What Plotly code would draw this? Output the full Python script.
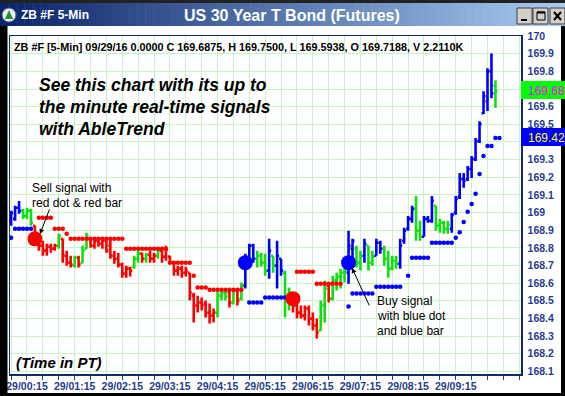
import plotly.graph_objects as go

# ---------------- data ----------------
BAR_START_MIN = -5          # first bar 28/23:55, minutes relative to 29/00:00
BAR_STEP_MIN = 5            # 5-minute bars

OPEN = [168.942, 168.964, 169.027, 169.010, 168.981, 169.010, 168.925, 168.829, 168.812, 168.784,
        168.806, 168.795, 168.812, 168.851, 168.755, 168.716, 168.699, 168.744, 168.716, 168.795,
        168.851, 168.812, 168.840, 168.823, 168.840, 168.812, 168.755, 168.738, 168.705, 168.654,
        168.682, 168.693, 168.738, 168.767, 168.738, 168.761, 168.738, 168.755, 168.784, 168.750,
        168.750, 168.716, 168.671, 168.682, 168.659, 168.659, 168.529, 168.473, 168.490, 168.484,
        168.433, 168.416, 168.433, 168.529, 168.546, 168.546, 168.490, 168.558, 168.512, 168.586,
        168.738, 168.812, 168.738, 168.755, 168.716, 168.671, 168.755, 168.699, 168.738, 168.659,
        168.501, 168.541, 168.473, 168.433, 168.416, 168.456, 168.399, 168.360, 168.332, 168.473,
        168.586, 168.512, 168.614, 168.637, 168.659, 168.659, 168.795, 168.795, 168.716, 168.755,
        168.812, 168.716, 168.755, 168.829, 168.795, 168.738, 168.682, 168.727, 168.710, 168.840,
        168.908, 168.964, 169.021, 168.897, 168.863, 168.964, 168.953, 169.038, 168.925, 168.942,
        168.908, 168.908, 168.998, 169.089, 169.190, 169.190, 169.247, 169.303, 169.405, 169.563,
        169.631, 169.801, 169.7188]
HIGH = [169.010, 169.038, 169.066, 169.021, 169.027, 169.021, 168.925, 168.851, 168.840, 168.823,
        168.823, 168.823, 168.880, 168.851, 168.784, 168.755, 168.755, 168.755, 168.812, 168.885,
        168.857, 168.851, 168.857, 168.851, 168.857, 168.851, 168.784, 168.772, 168.716, 168.699,
        168.693, 168.755, 168.784, 168.772, 168.772, 168.784, 168.772, 168.795, 168.784, 168.812,
        168.755, 168.716, 168.699, 168.699, 168.693, 168.659, 168.546, 168.529, 168.518, 168.501,
        168.484, 168.456, 168.558, 168.569, 168.569, 168.558, 168.569, 168.558, 168.603, 168.767,
        168.823, 168.823, 168.784, 168.772, 168.767, 168.851, 168.755, 168.840, 168.738, 168.671,
        168.575, 168.541, 168.501, 168.473, 168.473, 168.473, 168.433, 168.399, 168.501, 168.614,
        168.597, 168.642, 168.659, 168.682, 168.699, 168.897, 168.851, 168.812, 168.784, 168.851,
        168.812, 168.784, 168.851, 168.840, 168.812, 168.784, 168.755, 168.755, 168.851, 168.914,
        168.981, 169.038, 169.094, 168.953, 168.981, 168.981, 169.094, 169.038, 168.964, 168.953,
        168.953, 168.998, 169.094, 169.224, 169.224, 169.264, 169.320, 169.422, 169.518, 169.688,
        169.818, 169.902, 169.7500]
LOW = [168.925, 168.953, 168.993, 168.964, 168.964, 168.925, 168.812, 168.784, 168.755, 168.755,
       168.772, 168.784, 168.795, 168.716, 168.699, 168.688, 168.688, 168.688, 168.716, 168.795,
       168.801, 168.795, 168.806, 168.795, 168.772, 168.738, 168.710, 168.688, 168.631, 168.631,
       168.637, 168.682, 168.716, 168.716, 168.716, 168.716, 168.716, 168.738, 168.716, 168.727,
       168.710, 168.642, 168.642, 168.631, 168.637, 168.501, 168.377, 168.433, 168.445, 168.405,
       168.371, 168.377, 168.405, 168.501, 168.501, 168.462, 168.479, 168.473, 168.501, 168.569,
       168.716, 168.716, 168.688, 168.693, 168.642, 168.625, 168.659, 168.569, 168.642, 168.405,
       168.445, 168.433, 168.399, 168.399, 168.388, 168.360, 168.332, 168.286, 168.332, 168.377,
       168.490, 168.501, 168.558, 168.569, 168.603, 168.597, 168.738, 168.688, 168.671, 168.716,
       168.671, 168.699, 168.755, 168.767, 168.699, 168.631, 168.671, 168.682, 168.682, 168.823,
       168.897, 168.942, 168.840, 168.840, 168.863, 168.942, 168.942, 168.897, 168.885, 168.880,
       168.880, 168.885, 168.987, 169.077, 169.140, 169.179, 169.196, 169.292, 169.394, 169.558,
       169.575, 169.648, 169.5938]
CLOSE = [168.998, 169.027, 169.010, 168.981, 169.010, 168.942, 168.829, 168.812, 168.784, 168.806,
         168.795, 168.812, 168.868, 168.755, 168.716, 168.705, 168.744, 168.705, 168.784, 168.868,
         168.812, 168.840, 168.823, 168.840, 168.784, 168.755, 168.738, 168.705, 168.654, 168.682,
         168.671, 168.738, 168.767, 168.738, 168.761, 168.738, 168.755, 168.784, 168.750, 168.789,
         168.716, 168.671, 168.682, 168.659, 168.671, 168.546, 168.473, 168.490, 168.473, 168.433,
         168.416, 168.433, 168.529, 168.546, 168.524, 168.490, 168.558, 168.501, 168.586, 168.716,
         168.812, 168.738, 168.755, 168.716, 168.671, 168.784, 168.699, 168.755, 168.671, 168.501,
         168.546, 168.473, 168.433, 168.416, 168.456, 168.399, 168.360, 168.320, 168.473, 168.569,
         168.512, 168.614, 168.637, 168.659, 168.671, 168.812, 168.840, 168.716, 168.755, 168.823,
         168.716, 168.750, 168.829, 168.795, 168.738, 168.682, 168.727, 168.710, 168.812, 168.897,
         168.964, 169.021, 168.897, 168.863, 168.964, 168.953, 169.066, 168.925, 168.942, 168.908,
         168.931, 168.987, 169.077, 169.190, 169.179, 169.247, 169.303, 169.405, 169.501, 169.659,
         169.801, 169.676, 169.6875]
# B = uptrend (blue), R = downtrend (red), G = neutral (green)
BAR_COLOR = ("BBB" "GGG" "RRRRRR" "G" "RRR" "G" "R" "GG" "RRRRRRRRRRR" "GG" "R" "G" "RR" "G"
             "RRRRRRRRRRRRRR" "GGG" "R" "G" "R" "G" "BBB" "GGG" "B" "G" "BB" "GG" "RRRRRRR" "GG"
             "R" "GGGG" "BB" "GG" "B" "GG" "BB" "GGGG" "BBBB" "GG" "BBB" "GGGG" "BBBBBBBBBBB" "G")

RED_STOP_BAR = [7, 8, 9, 10, 11, 12, 13, 14,
                15, 16, 17, 18, 19, 20, 21, 22, 23, 24, 25, 26, 27, 28,
                29, 30, 31, 32, 33, 34, 35, 36, 37, 38, 39,
                40, 41, 42, 43, 44, 45, 46, 47, 48, 49,
                50, 51, 52, 53, 54, 55, 56, 57, 58,
                72, 73, 74, 75, 76, 77, 78, 79, 80, 81, 82, 83]
RED_STOP_PRICE = [168.970, 168.970, 168.970, 168.970, 168.908, 168.908, 168.908, 168.880,
                  168.851, 168.851, 168.851, 168.851, 168.851, 168.851, 168.851, 168.851, 168.851,
                  168.851, 168.851, 168.851, 168.851, 168.851,
                  168.795, 168.795, 168.795, 168.795, 168.795, 168.795, 168.795, 168.795, 168.795,
                  168.795, 168.795,
                  168.716, 168.716, 168.716, 168.716, 168.716, 168.716, 168.642, 168.575, 168.575,
                  168.575,
                  168.563, 168.563, 168.563, 168.563, 168.563, 168.563, 168.563, 168.563, 168.563,
                  168.665, 168.665, 168.665, 168.665, 168.665, 168.597, 168.597, 168.597, 168.597,
                  168.597, 168.597, 168.597]
BLUE_STOP_BAR = [0, 1, 2, 3, 4, 5,
                 60, 61, 62, 63, 64, 65, 66, 67, 68, 69, 70,
                 85, 86, 87, 88, 89, 90, 91, 92, 93, 94, 95, 96, 97, 98,
                 100, 101, 102, 103, 104, 105, 106, 107, 108, 109, 110, 111,
                 112, 113, 114, 115, 116, 117, 118, 119, 120, 121, 122, 123]
BLUE_STOP_PRICE = [168.857, 168.908, 168.908, 168.908, 168.908, 168.908,
                   168.490, 168.490, 168.490, 168.490, 168.518, 168.518, 168.518, 168.518, 168.518,
                   168.518, 168.518,
                   168.467, 168.541, 168.541, 168.541, 168.541, 168.541, 168.541, 168.580, 168.580,
                   168.580, 168.580, 168.580, 168.580, 168.580,
                   168.642, 168.744, 168.744, 168.744, 168.744, 168.744, 168.829, 168.829, 168.829,
                   168.829, 168.829, 168.829,
                   168.857, 168.889, 168.947, 169.004, 169.049, 169.106, 169.219, 169.320, 169.377,
                   169.377, 169.422, 169.422]
SELL_SIGNAL_BAR = [6, 71]
SELL_SIGNAL_PRICE = [168.851, 168.512]
BUY_SIGNAL_BAR = [59, 85]
BUY_SIGNAL_PRICE = [168.716, 168.716]

X_GRID_MIN = list(range(-5, 640, 20))
X_TICK_LABELS = ["29/00:15", "29/01:15", "29/02:15", "29/03:15", "29/04:15",
                 "29/05:15", "29/06:15", "29/07:15", "29/08:15", "29/09:15"]
Y_TICK_LABELS = ["168.1", "168.2", "168.3", "168.4", "168.5", "168.6", "168.7", "168.8", "168.9",
                 "169", "169.1", "169.2", "169.3", "169.4", "169.5", "169.6", "169.7", "169.8",
                 "169.9", "170"]
Y_LABELS_UNDER_BOXES = ["169.4", "169.7"]   # hidden by the price boxes in the reference
LAST_STOP_LABEL = "169.4238"

# ---------------- styling ----------------
W, H = 565, 396
ML, MR, MT, MB = 10, 44, 36, 22
PW, PH = W - ML - MR, H - MT - MB
FONT = "Liberation Sans, Arial, sans-serif"
NAVY = "#1f3d8f"
COLORS = {"R": "#ff0000", "G": "#10e010", "B": "#0000ff"}


def px(x):
    return (x - ML) / PW


def py(y):
    return (H - MB - y) / PH


def bar_time(k):
    return BAR_START_MIN + BAR_STEP_MIN * k


fig = go.Figure()
for code in ["R", "G", "B"]:
    idx = [k for k, c in enumerate(BAR_COLOR) if c == code]
    line = dict(color=COLORS[code], width=2.6)
    fig.add_trace(go.Ohlc(
        x=[bar_time(k) for k in idx],
        open=[OPEN[k] for k in idx], high=[HIGH[k] for k in idx],
        low=[LOW[k] for k in idx], close=[CLOSE[k] for k in idx],
        increasing=dict(line=line), decreasing=dict(line=line),
        tickwidth=0.5, hoverinfo="skip", showlegend=False))

fig.add_trace(go.Scatter(x=[bar_time(k) for k in RED_STOP_BAR], y=RED_STOP_PRICE, mode="markers",
                         marker=dict(color=COLORS["R"], size=4.5), hoverinfo="skip", showlegend=False))
fig.add_trace(go.Scatter(x=[bar_time(k) for k in BLUE_STOP_BAR], y=BLUE_STOP_PRICE, mode="markers",
                         marker=dict(color=COLORS["B"], size=4.5), hoverinfo="skip", showlegend=False))
fig.add_trace(go.Scatter(x=[bar_time(k) for k in SELL_SIGNAL_BAR], y=SELL_SIGNAL_PRICE, mode="markers",
                         marker=dict(color=COLORS["R"], size=15), hoverinfo="skip", showlegend=False))
fig.add_trace(go.Scatter(x=[bar_time(k) for k in BUY_SIGNAL_BAR], y=BUY_SIGNAL_PRICE, mode="markers",
                         marker=dict(color=COLORS["B"], size=15), hoverinfo="skip", showlegend=False))

x_text = []
for t in X_GRID_MIN:
    h = (t - 15) // 60
    x_text.append(X_TICK_LABELS[h] if (t - 15) % 60 == 0 and 0 <= h < len(X_TICK_LABELS) else "")
y_text = ["" if s in Y_LABELS_UNDER_BOXES else s for s in Y_TICK_LABELS]

shapes = []


def rect(x0, y0, x1, y1, fill, lc=None, lw=0):
    shapes.append(dict(type="rect", xref="paper", yref="paper", x0=px(x0), x1=px(x1),
                       y0=py(y1), y1=py(y0), fillcolor=fill,
                       line=dict(color=lc or fill, width=lw), layer="above"))


def seg(x0, y0, x1, y1, color, lw):
    shapes.append(dict(type="line", xref="paper", yref="paper", x0=px(x0), x1=px(x1),
                       y0=py(y0), y1=py(y1), line=dict(color=color, width=lw), layer="above"))


# title bar gradient (dark navy -> light blue)
c0, c1 = (10, 36, 106), (166, 202, 240)
N = 70
for i in range(N):
    f = i / (N - 1)
    col = "rgb(%d,%d,%d)" % tuple(round(a + (b - a) * f) for a, b in zip(c0, c1))
    rect(i * W / N, 3, (i + 1) * W / N + 0.5, 26, col)
# window frame
rect(0, 0, W, 3, "#222222")
rect(0, 26, 7.5, H, "#000000")
rect(561, 26, W, H, "#000000")
rect(0, 393, W, H, "#000000")
# price-axis boxes: last price (green) and stop (blue)
rect(521, 81, W, 99, "#00ff00")
rect(521, 128, W, 146, "#0000ff")
# icon
shapes.append(dict(type="circle", xref="paper", yref="paper", x0=px(2), x1=px(16), y0=py(22), y1=py(8),
                   fillcolor="#e8eef4", line=dict(color="#506070", width=1), layer="above"))
shapes.append(dict(type="path", xref="paper", yref="paper",
                   path="M %f %f L %f %f L %f %f Z" % (px(9), py(10), px(5), py(19), px(13), py(19)),
                   fillcolor="#2e8b3a", line=dict(width=0), layer="above"))
# window buttons
for x0, x1 in [(517, 532), (533, 548), (550, 565)]:
    rect(x0, 8, x1, 24, "#d4d0c8", "#404040", 1)
seg(521, 20, 527, 20, "#000000", 2)
rect(537, 12, 545, 20, "rgba(0,0,0,0)", "#000000", 1)
seg(537, 12.5, 545, 12.5, "#000000", 2)
seg(554, 12, 561, 20, "#000000", 2)
seg(561, 12, 554, 20, "#000000", 2)

ann = []


def text(x, y, s, size, color="#000000", anchor="left", **kw):
    ann.append(dict(x=px(x), y=py(y), xref="paper", yref="paper", text=s, showarrow=False,
                    xanchor=anchor, yanchor="middle", borderpad=0,
                    font=dict(family=FONT, size=size, color=color), **kw))


header = "ZB #F [5-Min] 09/29/16 0.0000 C %.4f, H %.4f, L %.4f, O %.4f, V 2.2110K" % (
    CLOSE[-1], HIGH[-1], LOW[-1], OPEN[-1])
text(13, 47, "<b>" + header + "</b>", 10.8)
text(38, 85, "<b><i>See this chart with its up to</i></b>", 17.5)
text(38, 107, "<b><i>the minute real-time signals</i></b>", 17.5)
text(38, 129, "<b><i>with AbleTrend</i></b>", 17.5)
text(31, 188, "Sell signal with", 12)
text(31, 203, "red dot &amp; red bar", 12)
text(376, 301, "Buy signal", 12)
text(376, 316, "with blue dot", 12)
text(376, 331, "and blue bar", 12)
text(15, 362, "<b><i>(Time in PT)</i></b>", 15)
text(20, 15, "<b>ZB #F 5-Min</b>", 12, "#ffffff")
text(292, 15, "<b>US 30 Year T Bond (Futures)</b>", 16, "#ffffff", anchor="center")
# price-axis box texts (run off the window edge, as in the reference)
text(527, 91, "%.4f" % CLOSE[-1], 12, "#ff00ff")
text(527, 138, LAST_STOP_LABEL, 12, "#ffff00")
# callout arrows
ann.append(dict(x=px(40), y=py(234), xref="paper", yref="paper", text="", showarrow=True,
                ax=10, ay=-26, arrowhead=2, arrowsize=1, arrowwidth=1, arrowcolor="#000000"))
ann.append(dict(x=px(352), y=py(268), xref="paper", yref="paper", text="", showarrow=True,
                ax=18, ay=39, arrowhead=2, arrowsize=1, arrowwidth=1, arrowcolor="#000000"))

fig.update_layout(
    width=W, height=H, margin=dict(l=ML, r=MR, t=MT, b=MB, autoexpand=False),
    paper_bgcolor="#ffffff", plot_bgcolor="#ffffff",
    font=dict(family=FONT), showlegend=False,
    shapes=shapes, annotations=ann,
    xaxis=dict(range=[-6.4, 637.2], tickmode="array", tickvals=X_GRID_MIN, ticktext=x_text,
               showgrid=True, gridcolor="#c8f2c8", gridwidth=1, zeroline=False, automargin=False,
               showline=True, linecolor="#102a6a", linewidth=1.5, mirror=True,
               ticks="outside", ticklen=4, tickcolor=NAVY, tickangle=0, ticklabelstandoff=-2,
               tickfont=dict(family=FONT, size=10.5, color=NAVY, weight="bold"),
               rangeslider=dict(visible=False), fixedrange=True),
    yaxis=dict(range=[168.085, 170.0005], side="right", tickmode="array",
               tickvals=[float(v) for v in Y_TICK_LABELS], ticktext=y_text,
               showgrid=True, gridcolor="#c8f2c8", gridwidth=1, zeroline=False, automargin=False,
               showline=True, linecolor="#102a6a", linewidth=1.5, mirror=True,
               ticks="", ticklabelstandoff=3,
               tickfont=dict(family=FONT, size=10.5, color=NAVY, weight="bold"), fixedrange=True),
)

fig.write_html("out.html", config={"staticPlot": True},
               post_script="document.body.style.margin='0';document.body.style.overflow='hidden';")
